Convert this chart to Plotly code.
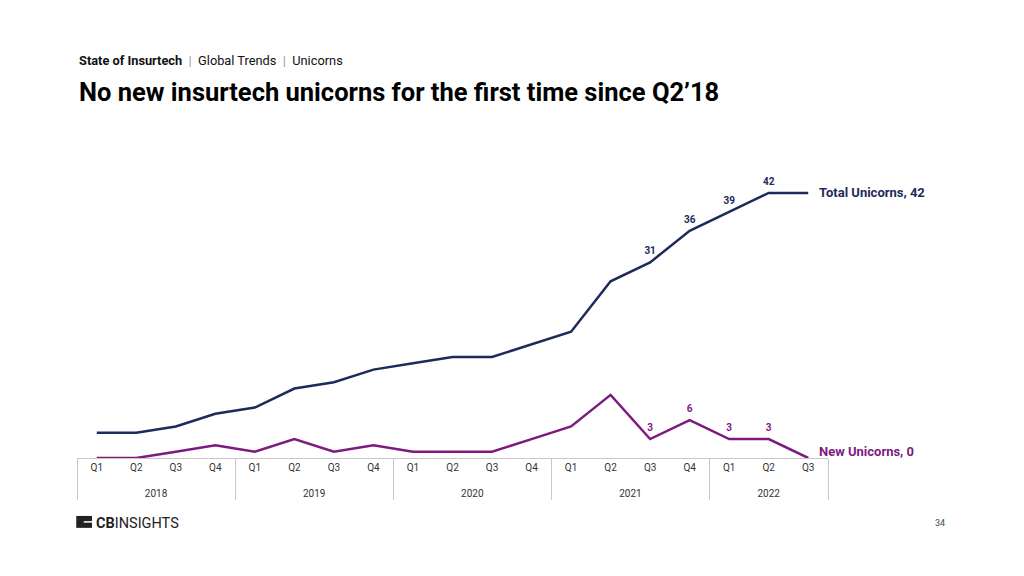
import plotly.graph_objects as go

years = ["2018"] * 4 + ["2019"] * 4 + ["2020"] * 4 + ["2021"] * 4 + ["2022"] * 3
quarters = ["Q1", "Q2", "Q3", "Q4"] * 4 + ["Q1", "Q2", "Q3"]
total_unicorns = [4, 4, 5, 7, 8, 11, 12, 14, 15, 16, 16, 18, 20, 28, 31, 36, 39, 42, 42]
new_unicorns = [0, 0, 1, 2, 1, 3, 1, 2, 1, 1, 1, 3, 5, 10, 3, 6, 3, 3, 0]
total_labels = [""] * 14 + ["31", "36", "39", "42", ""]
new_labels = [""] * 14 + ["3", "6", "3", "3", ""]

NAVY = "#1E2A5A"
PURPLE = "#7E1A7F"
FONT = "Roboto"

year_display = ["<br>" + y for y in years]

fig = go.Figure()
fig.add_trace(go.Scatter(
    x=[year_display, quarters], y=total_unicorns, mode="lines+markers+text",
    line=dict(color=NAVY, width=2.5), marker=dict(size=7, color="rgba(0,0,0,0)"),
    text=total_labels,
    textposition="top center", textfont=dict(family=FONT, size=10, color=NAVY, weight="bold"),
    cliponaxis=False, showlegend=False, hoverinfo="skip"))
fig.add_trace(go.Scatter(
    x=[year_display, quarters], y=new_unicorns, mode="lines+markers+text",
    line=dict(color=PURPLE, width=2.5), marker=dict(size=7, color="rgba(0,0,0,0)"),
    text=new_labels,
    textposition="top center", textfont=dict(family=FONT, size=10, color=PURPLE, weight="bold"),
    cliponaxis=False, showlegend=False, hoverinfo="skip"))

fig.update_xaxes(
    type="multicategory", range=[-0.5, len(quarters) - 0.5], autorange=False,
    showline=True, linecolor="#C8C8C8", linewidth=1,
    showdividers=True, dividercolor="#C8C8C8", dividerwidth=1,
    ticks="", showgrid=False, zeroline=False,
    tickfont=dict(family=FONT, size=10, color="#333333"), automargin=False)
fig.update_yaxes(range=[0, 45], visible=False, showgrid=False, zeroline=False)

annotations = [
    dict(xref="paper", yref="y", x=1, y=total_unicorns[-1], xshift=-11, xanchor="left", yanchor="middle",
         text="<b>Total Unicorns, %d</b>" % total_unicorns[-1], showarrow=False,
         font=dict(family=FONT, size=13, color=NAVY)),
    dict(xref="paper", yref="y", x=1, y=new_unicorns[-1], xshift=-11, yshift=7, xanchor="left", yanchor="middle",
         text="<b>New Unicorns, %d</b>" % new_unicorns[-1], showarrow=False,
         font=dict(family=FONT, size=13, color=PURPLE)),
    dict(xref="paper", yref="paper", x=0, y=1.398, xanchor="left", yanchor="middle",
         text="<b>State of Insurtech</b> <span style='color:#999999'> | </span> Global Trends <span style='color:#999999'> | </span> Unicorns",
         showarrow=False, font=dict(family=FONT, size=12.8, color="#111111")),
    dict(xref="paper", yref="paper", x=0, y=1.289, xanchor="left", yanchor="middle",
         text="<b>No new insurtech unicorns for the first time since Q2’18</b>",
         showarrow=False, font=dict(family=FONT, size=25.5, color="#000000")),
    dict(xref="paper", yref="paper", x=0.022, y=-0.229, xanchor="left", yanchor="middle",
         text="<b>CB</b>INSIGHTS", showarrow=False, font=dict(family=FONT, size=14.5, color="#222222")),
    dict(xref="paper", yref="paper", x=1.149, y=-0.229, xanchor="center", yanchor="middle",
         text="34", showarrow=False, font=dict(family=FONT, size=9, color="#444444")),
]

shapes = [
    dict(type="rect", xref="paper", yref="paper", x0=-0.001, x1=0.02, y0=-0.246, y1=-0.204,
         fillcolor="#222222", line=dict(width=0)),
    dict(type="line", xref="paper", yref="paper", x0=0.009, x1=0.021, y0=-0.225, y1=-0.225,
         line=dict(color="white", width=1.5)),
]

fig.update_layout(
    width=1024, height=576, autosize=False,
    margin=dict(l=77, r=196, t=174, b=118),
    paper_bgcolor="white", plot_bgcolor="white",
    font=dict(family=FONT),
    annotations=annotations, shapes=shapes,
)

fig.write_html("out.html", config={"displayModeBar": False},
               post_script="document.body.style.margin='0';document.body.style.padding='0';")
